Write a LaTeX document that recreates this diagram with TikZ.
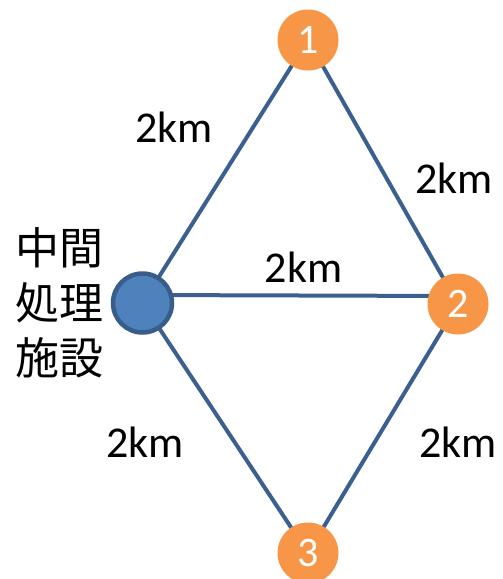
\documentclass[tikz,border=0pt]{standalone}
\usepackage{fontspec}
\setmainfont{Carlito}
\newfontfamily\cjk{Noto Sans CJK JP}
\usetikzlibrary{backgrounds}
\definecolor{edgeblue}{HTML}{3B5F8F}
\definecolor{fillblue}{HTML}{4F81BD}
\definecolor{borderblue}{HTML}{385D8A}
\definecolor{orangenode}{HTML}{F79646}
\tikzset{
  site/.style={circle, fill=orangenode, minimum size=61pt, inner sep=0pt, text=white, font=\fontsize{42}{48}\selectfont},
  plant/.style={circle, fill=fillblue, draw=borderblue, line width=4.5pt, minimum size=59pt, inner sep=0pt},
  edge/.style={draw=edgeblue, line width=4pt},
  dist/.style={anchor=base, inner sep=0pt, font=\fontsize{44}{50}\selectfont},
  cjklabel/.style={align=center, inner sep=0pt, font=\cjk\fontsize{44}{55}\selectfont},
}
\begin{document}
\begin{tikzpicture}[x=1pt,y=-1pt]
\useasboundingbox (0,0) rectangle (503,579);
\node[plant] (c) at (142.5,303) {};
\node[site] (n1) at (308,40) {1};
\node[site] (n2) at (458,304) {2};
\node[site] (n3) at (308,553) {3};
\begin{scope}[on background layer]
  \draw[edge] (n1.center) -- (c.center);
  \draw[edge] (n1.center) -- (n2.center);
  \draw[edge] ([yshift=8pt]c.center) -- ([yshift=8pt]n2.center);
  \draw[edge] (c.center) -- (n3.center);
  \draw[edge] (n2.center) -- (n3.center);
\end{scope}
\node[cjklabel] (lab) at (60,303) {中間\\処理\\施設};
\node[dist] (d1) at (174,142) {2km};
\node[dist] (d2) at (454,193) {2km};
\node[dist] (d3) at (303.5,282) {2km};
\node[dist] (d4) at (145,457) {2km};
\node[dist] (d5) at (458,457) {2km};
\end{tikzpicture}
\end{document}
